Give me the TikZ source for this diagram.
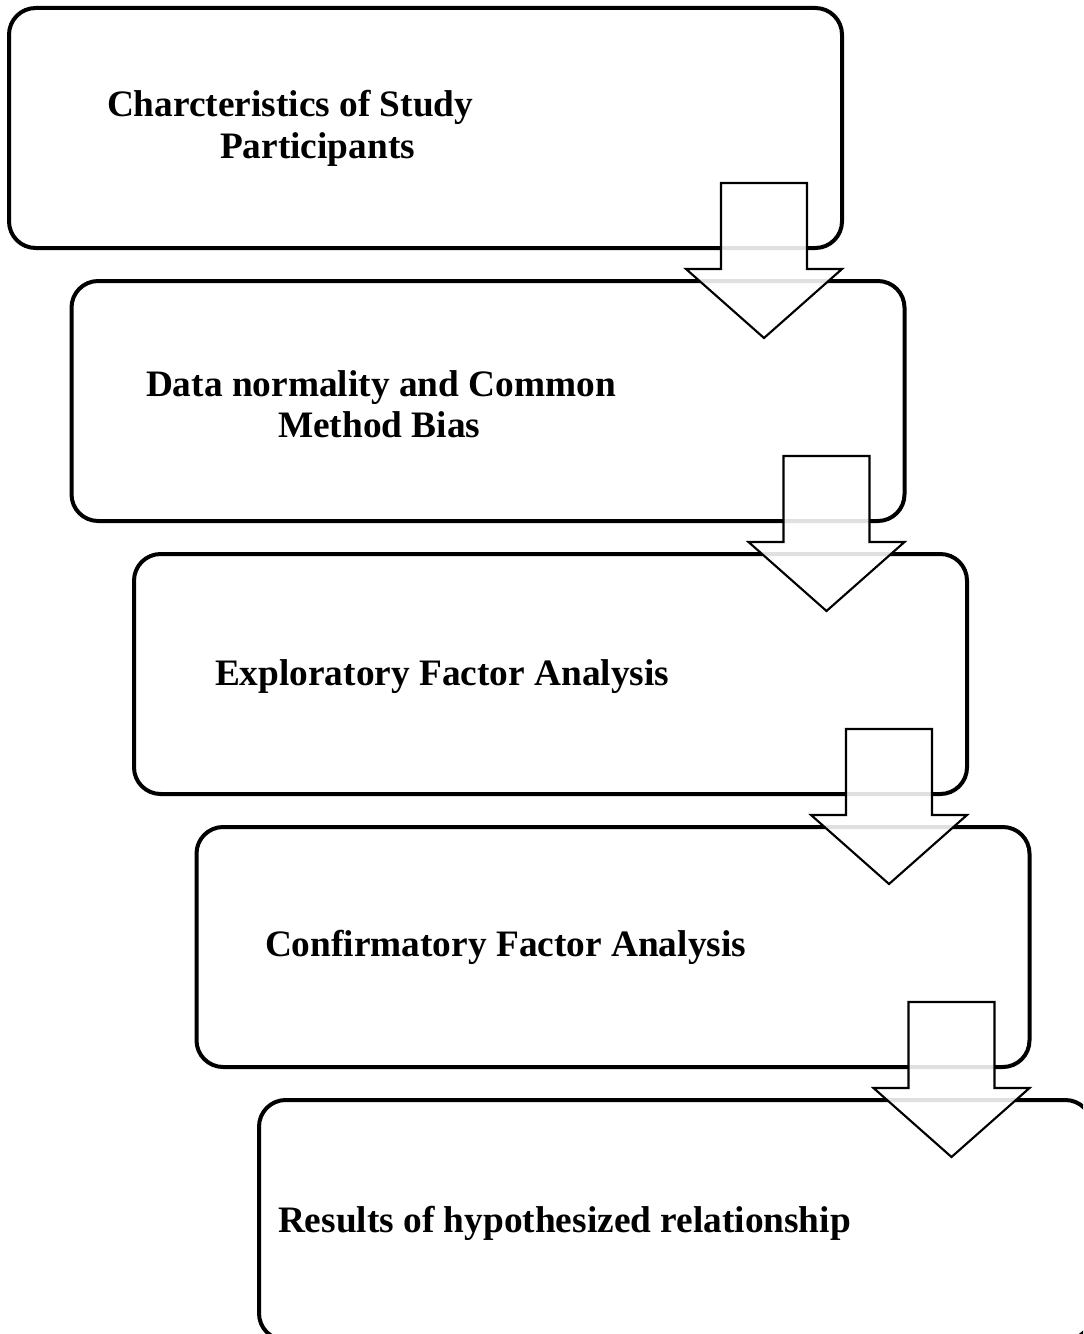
\documentclass[tikz,border=0pt]{standalone}
\usepackage{fontspec}
\setmainfont{Liberation Serif}
\usetikzlibrary{calc}
\begin{document}
\begin{tikzpicture}[x=0.75pt,y=-0.75pt,
  stagebox/.style={draw, line width=3pt, rounded corners=20pt,
    minimum width=624.75pt, minimum height=180pt, inner sep=0pt, outer sep=0pt},
  stagetext/.style={anchor=base west, inner sep=0pt, outer sep=0pt,
    font=\bfseries\fontsize{28}{31.5}\selectfont},
  flowarrow/.style={draw, line width=1.6pt, line join=miter, fill=white, fill opacity=0.88}]
\useasboundingbox (0,0) rectangle (1083,1334);
\begin{scope}
\clip (0,0) rectangle (1083,1334);
% stage boxes, each shifted right and down from the previous one
\node[stagebox] (b1) at (425.5,128) {};
\node[stagebox] (b2) at (488,401) {};
\node[stagebox] (b3) at (550.5,674) {};
\node[stagebox] (b4) at (613,947) {};
\node[stagebox] (b5) at (675.5,1220) {};

% stage titles
\node[stagetext] (t1a) at (107,117) {Charcteristics of Study};
\node[stagetext] (t1b) at (220,159) {Participants};
\node[stagetext] (t2a) at (146,396) {Data normality and Common};
\node[stagetext] (t2b) at (278,437) {Method Bias};
\node[stagetext] (t3) at (215,685) {Exploratory Factor Analysis};
\node[stagetext] (t4) at (265,956) {Confirmatory Factor Analysis};
\node[stagetext] (t5) at (278,1232) {Results of hypothesized relationship};

% block arrows hanging from the lower right corner of each box
\foreach \i in {1,...,4}{
  \draw[flowarrow] ($(b\i.south east)+(-121,-65)$) -- ++(86,0) -- ++(0,86)
    -- ++(35,0) -- ++(-78,69) -- ++(-78,-69) -- ++(35,0) -- cycle;
}
\end{scope}
\end{tikzpicture}
\end{document}
